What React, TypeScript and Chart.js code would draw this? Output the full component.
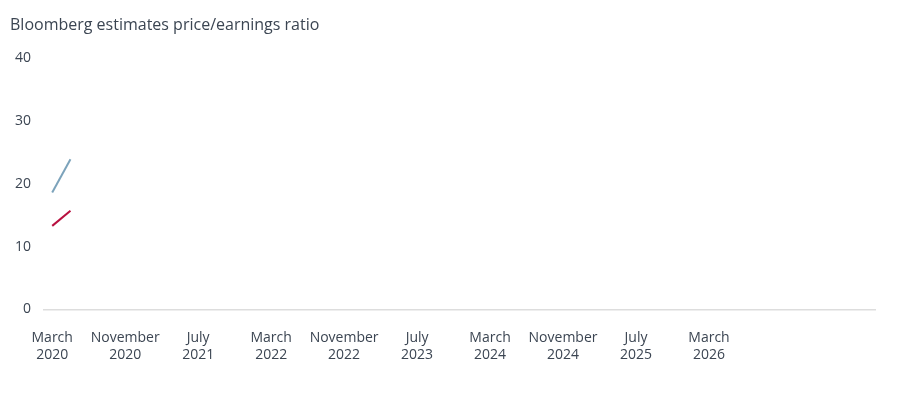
import React, { useEffect, useRef } from "react";
import { Chart, registerables } from "chart.js";

Chart.register(...registerables);

const TITLE = "Bloomberg estimates price/earnings ratio";
// month index 0 = March 2020
const tickMonths = [0, 8, 16, 24, 32, 40, 48, 56, 64, 72];
const tickLabels: string[][] = [
  ["March", "2020"],
  ["November", "2020"],
  ["July", "2021"],
  ["March", "2022"],
  ["November", "2022"],
  ["July", "2023"],
  ["March", "2024"],
  ["November", "2024"],
  ["July", "2025"],
  ["March", "2026"],
];
const seriesMonths = [0, 2];
const seriesA = [18.6, 23.9];
const seriesB = [13.3, 15.7];

const TEXT = "#3b4552";
const FONT = "'Open Sans', sans-serif";

export default function App() {
  const ref = useRef<HTMLCanvasElement>(null);
  useEffect(() => {
    document.body.style.margin = "0";
    const chart = new Chart(ref.current!, {
      type: "line",
      data: {
        datasets: [
          {
            label: "A",
            data: seriesMonths.map((m, i) => ({ x: m, y: seriesA[i] })),
            borderColor: "#7ca3bb",
            borderWidth: 2,
            pointRadius: 0,
            tension: 0,
          },
          {
            label: "B",
            data: seriesMonths.map((m, i) => ({ x: m, y: seriesB[i] })),
            borderColor: "#b8103f",
            borderWidth: 2,
            pointRadius: 0,
            tension: 0,
          },
        ],
      },
      options: {
        animation: false,
        responsive: false,
        layout: { padding: { left: 10, right: 25, top: 8, bottom: 45 } },
        plugins: {
          legend: { display: false },
          tooltip: { enabled: false },
          title: {
            display: true,
            text: TITLE,
            align: "start",
            color: TEXT,
            font: { family: FONT, size: 16, weight: "normal" },
            padding: { top: 8, bottom: 23 },
          },
        },
        scales: {
          x: {
            type: "linear",
            min: -0.9,
            max: 90.2,
            grid: { display: false },
            border: { display: true, color: "#dddddd", width: 1.5 },
            afterBuildTicks: (axis: any) => {
              axis.ticks = tickMonths.map((v) => ({ value: v }));
            },
            ticks: {
              autoSkip: false,
              maxRotation: 0,
              color: TEXT,
              padding: 12,
              font: { family: FONT, size: 14 },
              callback: (v: any) => {
                const i = tickMonths.indexOf(Number(v));
                return i >= 0 ? tickLabels[i] : "";
              },
            },
          },
          y: {
            min: 0,
            max: 40,
            grid: { display: false },
            border: { display: false },
            ticks: {
              stepSize: 10,
              color: TEXT,
              padding: 5,
              font: { family: FONT, size: 14 },
            },
          },
        },
      },
    });
    return () => chart.destroy();
  }, []);
  return (
    <div style={{ width: 900, height: 420, background: "#fff" }}>
      <canvas ref={ref} width={900} height={420} style={{ width: 900, height: 420 }} />
    </div>
  );
}
